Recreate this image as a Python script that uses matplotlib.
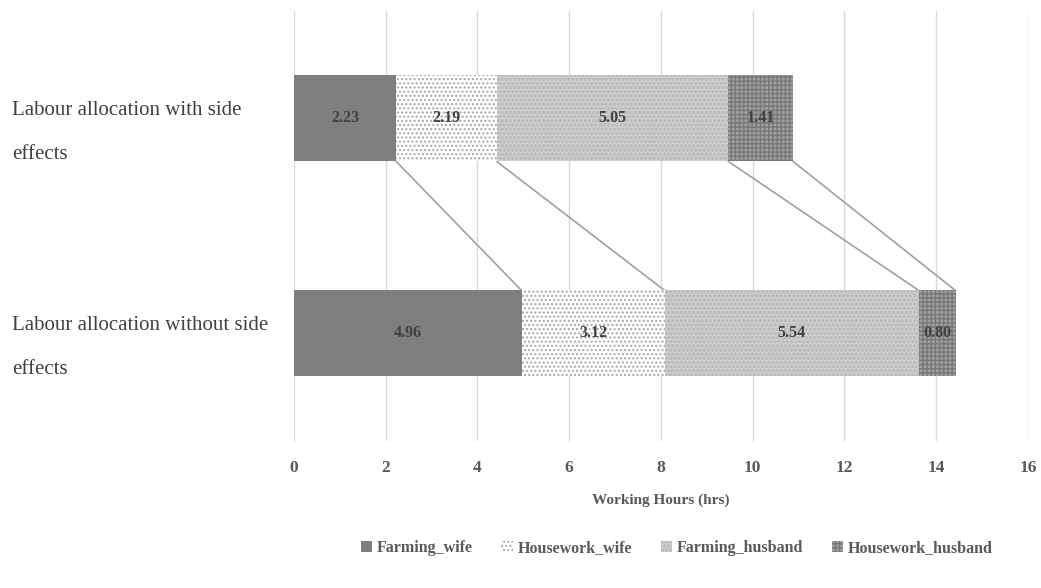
import matplotlib
matplotlib.use("Agg")
import matplotlib.pyplot as plt
import matplotlib.transforms as mtransforms
import numpy as np

# Data
categories = ["Labour allocation without side\neffects", "Labour allocation with side\neffects"]
series_names = ["Farming_wife", "Housework_wife", "Farming_husband", "Housework_husband"]
farming_wife = [4.96, 2.23]
housework_wife = [3.12, 2.19]
farming_husband = [5.54, 5.05]
housework_husband = [0.80, 1.41]

plt.rcParams['font.family'] = ['Liberation Serif', 'DejaVu Serif']
plt.rcParams['hatch.linewidth'] = 1.0

fig = plt.figure(figsize=(10.41, 5.88), dpi=100)
ax = fig.add_axes([0.2824, 0.25, 0.7051, 0.7313])

values = [farming_wife, housework_wife, farming_husband, housework_husband]
styles = [
    dict(color="#7f7f7f", hatch=None, edgecolor="#7f7f7f"),
    dict(color="white", hatch="....", edgecolor="#a6a6a6"),
    dict(color="#d0d0d0", hatch="oooo", edgecolor="#bcbcbc"),
    dict(color="#a0a0a0", hatch="++++", edgecolor="#777777"),
]

y = np.arange(len(categories))
bar_h = 0.4
left = np.zeros(len(categories))
rights = []
for name, vals, st in zip(series_names, values, styles):
    vals = np.array(vals)
    ax.barh(y, vals, left=left, height=bar_h, color=st["color"],
            hatch=st["hatch"], edgecolor=st["edgecolor"], linewidth=0,
            label=name, zorder=3)
    for yi, l, v in zip(y, left, vals):
        ax.text(l + v / 2, yi, f"{v:.2f}", ha="center", va="center",
                fontsize=11.5, fontweight="bold", color="#404040", zorder=5)
    left = left + vals
    rights.append(left.copy())

# series lines between bars
for r in rights:
    ax.plot([r[1], r[0]], [1 - bar_h / 2, 0 + bar_h / 2], color="#a0a0a0",
            linewidth=1.2, zorder=2)

ax.set_xlim(0, 16)
ax.set_ylim(-0.5, 1.5)
ax.set_xticks(range(0, 17, 2))
ax.set_yticks([])
ax.tick_params(axis="x", length=0, pad=14, labelsize=12.5, labelcolor="#595959")
for lab in ax.get_xticklabels():
    lab.set_fontweight("bold")
ax.grid(axis="x", color="#d9d9d9", linewidth=1, zorder=0)
for s in ax.spines.values():
    s.set_visible(False)

# category labels, left aligned near figure edge
trans = mtransforms.blended_transform_factory(fig.transFigure, ax.transData)
trans = trans + mtransforms.ScaledTranslation(0, -0.14, fig.dpi_scale_trans)
for yi, cat in zip(y, categories):
    ax.text(12 / 1041, yi, cat, transform=trans, ha="left", va="center",
            fontsize=15, color="#404040", linespacing=2.75)

ax.set_xlabel("Working Hours (hrs)", fontsize=11, fontweight="bold",
              color="#595959", labelpad=12)

leg = fig.legend(loc="lower center", bbox_to_anchor=(0.65, 0.03), ncol=4,
                 frameon=False, handlelength=0.7, handleheight=0.7,
                 columnspacing=1.8, handletextpad=0.3,
                 prop=dict(size=11.5, weight="bold"))
for t in leg.get_texts():
    t.set_color("#595959")

plt.savefig("out.png", dpi=100)
